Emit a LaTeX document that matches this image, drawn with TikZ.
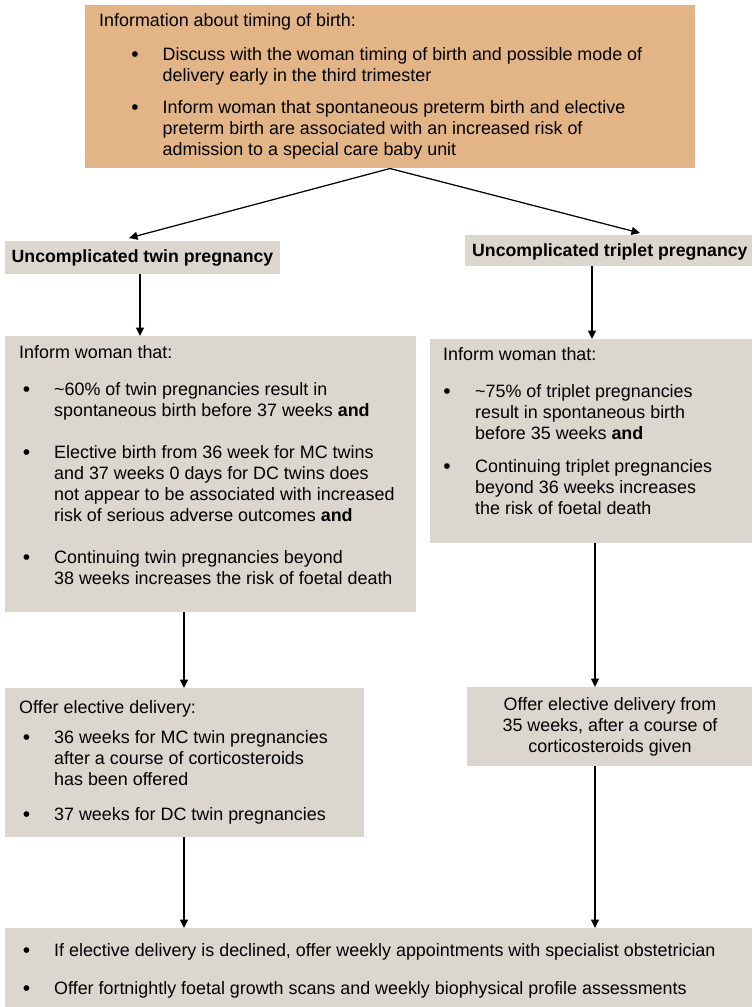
\documentclass[tikz,border=0pt]{standalone}
\usepackage{fontspec}
\setmainfont{Liberation Sans}
\usetikzlibrary{arrows.meta}
\definecolor{tan}{RGB}{227,180,134}
\definecolor{stone}{RGB}{219,215,207}
\begin{document}
\begin{tikzpicture}[x=1pt,y=-1pt,
  box/.style={anchor=north west,inner sep=0pt,outer sep=0pt,draw=none},
  orangebox/.style={box,fill=tan},
  greybox/.style={box,fill=stone},
  txt/.style={inner sep=0pt,anchor=base west,font=\fontsize{17.9}{21}\selectfont},
  para/.style={inner sep=0pt,anchor=north west,align=left,font=\fontsize{17.9}{21}\selectfont},
  dot/.style={inner sep=0pt,anchor=base,font=\fontsize{21}{21}\selectfont},
  arr/.style={line width=1.25pt,-{Triangle[length=8.5pt,width=8pt]}}]
\useasboundingbox (0,0) rectangle (754,1007);

% ---- boxes ----
\node[orangebox,minimum width=610,minimum height=163] (top) at (85,5) {};
\node[greybox,minimum width=275,minimum height=33] (twin) at (5,241) {};
\node[greybox,minimum width=287,minimum height=31] (trip) at (465,235) {};
\node[greybox,minimum width=411,minimum height=276] (twininf) at (5,336) {};
\node[greybox,minimum width=322,minimum height=204] (tripinf) at (430,339) {};
\node[greybox,minimum width=359,minimum height=149] (twinoff) at (5,688) {};
\node[greybox,minimum width=285,minimum height=79] (tripoff) at (467,687) {};
\node[greybox,minimum width=747,minimum height=79] (final) at (5,928) {};

% ---- timing of birth ----
\node[txt] (t0) at (99,26.7) {Information about timing of birth:};
\node[dot] (t1d) at (135,61) {•};
\node[para] (t1) at (162.5,47) {Discuss with the woman timing of birth and possible mode of\\delivery early in the third trimester};
\node[dot] (t2d) at (135,114.7) {•};
\node[para] (t2) at (162.5,100.7) {Inform woman that spontaneous preterm birth and elective\\preterm birth are associated with an increased risk of\\admission to a special care baby unit};

% ---- titles ----
\node[txt,font=\fontsize{17.7}{21}\selectfont\bfseries] (twint) at (11.5,262) {Uncomplicated twin pregnancy};
\node[txt,font=\fontsize{17.7}{21}\selectfont\bfseries] (tript) at (472,256) {Uncomplicated triplet pregnancy};

% ---- twin information ----
\node[txt] (w0) at (19,358.3) {Inform woman that:};
\node[dot] (w1d) at (26.5,396) {•};
\node[para] (w1) at (54,382) {\textasciitilde60\% of twin pregnancies result in\\spontaneous birth before 37 weeks \textbf{and}};
\node[dot] (w2d) at (26.5,459.3) {•};
\node[para] (w2) at (54,445.3) {Elective birth from 36 week for MC twins\\and 37 weeks 0 days for DC twins does\\not appear to be associated with increased\\risk of serious adverse outcomes \textbf{and}};
\node[dot] (w3d) at (26.5,564.3) {•};
\node[para] (w3) at (54,550.3) {Continuing twin pregnancies beyond\\38 weeks increases the risk of foetal death};

% ---- triplet information ----
\node[txt] (p0) at (443,360) {Inform woman that:};
\node[dot] (p1d) at (447,398.7) {•};
\node[para] (p1) at (475,384.7) {\textasciitilde75\% of triplet pregnancies\\result in spontaneous birth\\before 35 weeks \textbf{and}};
\node[dot] (p2d) at (447,473.7) {•};
\node[para] (p2) at (475,459.7) {Continuing triplet pregnancies\\beyond 36 weeks increases\\the risk of foetal death};

% ---- twin delivery ----
\node[txt] (o0) at (19,713.3) {Offer elective delivery:};
\node[dot] (o1d) at (26.5,744.3) {•};
\node[para] (o1) at (54,730.3) {36 weeks for MC twin pregnancies\\after a course of corticosteroids\\has been offered};
\node[dot] (o2d) at (26.5,821) {•};
\node[txt] (o2) at (54,820) {37 weeks for DC twin pregnancies};

% ---- triplet delivery ----
\node[para,anchor=north,align=center] (q0) at (610,697.7) {Offer elective delivery from\\35 weeks, after a course of\\corticosteroids given};

% ---- follow-up ----
\node[dot] (f1d) at (26.5,957.7) {•};
\node[txt] (f1) at (54,956.7) {If elective delivery is declined, offer weekly appointments with specialist obstetrician};
\node[dot] (f2d) at (26.5,995.3) {•};
\node[txt] (f2) at (54,994.3) {Offer fortnightly foetal growth scans and weekly biophysical profile assessments};

% ---- connectors ----
\coordinate (apex) at (390,168.5);
\coordinate (twintip) at (129,238);
\coordinate (triptip) at (640,233);
\coordinate (cA) at (140,0);
\coordinate (cB) at (592,0);
\coordinate (cC) at (184,0);
\coordinate (cD) at (595,0);
\draw[arr] (apex) -- (twintip);
\draw[arr] (apex) -- (triptip);
\draw[arr] (twin.south -| cA) -- (twininf.north -| cA);
\draw[arr] (trip.south -| cB) -- (tripinf.north -| cB);
\draw[arr] (twininf.south -| cC) -- (twinoff.north -| cC);
\draw[arr] (tripinf.south -| cD) -- (tripoff.north -| cD);
\draw[arr] (twinoff.south -| cC) -- (final.north -| cC);
\draw[arr] (tripoff.south -| cD) -- (final.north -| cD);
\end{tikzpicture}
\end{document}
